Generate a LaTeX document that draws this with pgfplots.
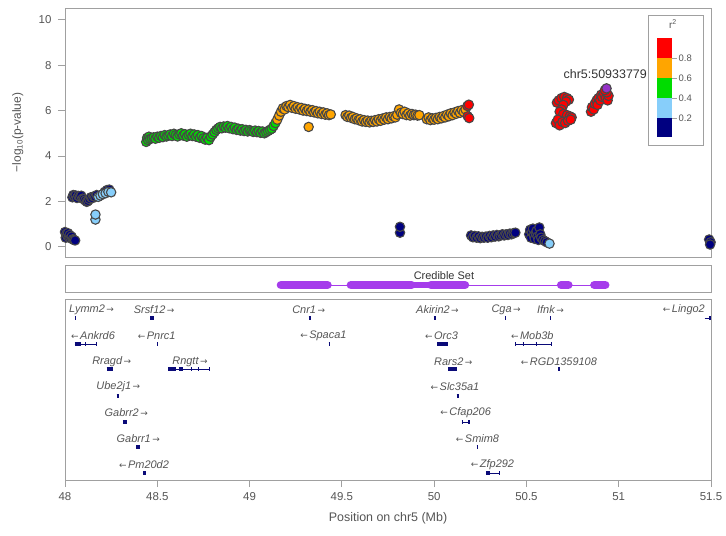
\documentclass[border=0pt]{standalone}
\usepackage{fontspec}
\setmainfont{Liberation Sans}
\newfontfamily\arrowfont{DejaVu Sans}
\usepackage{pgfplots}
\pgfplotsset{compat=1.18}

\definecolor{ldnavy}{RGB}{0,0,128}
\definecolor{ldlblue}{RGB}{135,206,250}
\definecolor{ldgreen}{RGB}{0,220,0}
\definecolor{ldorange}{RGB}{255,165,0}
\definecolor{ldred}{RGB}{255,0,0}
\definecolor{leadpurple}{RGB}{150,50,200}
\definecolor{credp}{RGB}{165,60,235}
\definecolor{genenavy}{RGB}{10,10,120}
\definecolor{axgray}{RGB}{160,160,160}
\definecolor{txtgray}{RGB}{85,85,85}

\newcommand{\ra}{{\arrowfont\fontsize{9}{9}\selectfont\,→}}
\newcommand{\la}{{\arrowfont\fontsize{9}{9}\selectfont←\,}}

\tikzset{genelab/.style={font=\fontsize{11}{11}\selectfont\itshape, text=txtgray, inner sep=0pt, anchor=center}}

\pgfplotsset{
  every axis/.append style={
    scale only axis, width=646bp, xmin=48, xmax=51.5,
    axis line style={draw=axgray, line width=0.8bp},
    tick style={draw=axgray, line width=0.8bp},
    major tick length=7bp, tick align=outside, tick pos=left,
    /pgf/number format/assume math mode=true,
    tick label style={font=\fontsize{11.5}{12}\selectfont, text=txtgray},
  },
  snp/.style={only marks, mark=*, mark size=4.7bp,
    mark options={draw=black!72, line width=1.1bp, fill=#1}},
  exon/.style={genenavy, line width=4.5bp, forget plot},
  intron/.style={genenavy, line width=0.9bp, forget plot},
}

\begin{document}
\begin{tikzpicture}
\path[use as bounding box] (0,0) rectangle (726bp,536bp);

% ---------------- association panel ----------------
\begin{axis}[
  at={(65bp,279bp)}, anchor=south west, height=249bp,
  ymin=-0.45, ymax=10.52, xtick=\empty, ytick={0,2,4,6,8,10},
  yticklabel style={xshift=-3bp},
  ylabel={−log\textsubscript{10}(p-value)},
  ylabel style={at={(rel axis cs:-0.073,0.5)}, anchor=center,
    font=\fontsize{12}{12}\selectfont, text=txtgray},
]
% r2 < 0.2
\addplot[snp=ldnavy] coordinates {
 (48.000,0.65)(48.004,0.40)(48.008,0.58)(48.012,0.48)(48.016,0.60)(48.020,0.42)
 (48.025,0.52)(48.030,0.38)(48.036,0.45)(48.042,0.33)(48.048,0.30)(48.055,0.28)
 (48.040,2.18)(48.045,2.28)(48.050,2.22)(48.058,2.26)(48.065,2.15)(48.072,2.24)
 (48.080,2.20)(48.088,2.25)(48.095,2.12)(48.102,2.10)(48.110,2.04)(48.118,1.98)
 (48.125,2.02)(48.132,2.10)(48.140,2.18)(48.148,2.14)(48.156,2.22)(48.164,2.20)
 (48.172,2.28)(48.215,2.42)(48.228,2.50)(48.240,2.52)
 (49.815,0.62)(49.815,0.88)
 (50.200,0.50)(50.210,0.42)(50.220,0.48)(50.230,0.40)(50.240,0.46)(50.250,0.38)
 (50.260,0.44)(50.270,0.40)(50.280,0.45)(50.290,0.40)(50.300,0.48)(50.310,0.42)
 (50.320,0.50)(50.330,0.45)(50.340,0.52)(50.350,0.46)(50.360,0.50)(50.370,0.55)
 (50.380,0.50)(50.390,0.55)(50.400,0.52)(50.410,0.58)(50.420,0.55)(50.430,0.60)
 (50.440,0.62)
 (50.515,0.55)(50.520,0.75)(50.525,0.40)(50.530,0.65)(50.535,0.80)(50.540,0.50)
 (50.545,0.35)(50.550,0.60)(50.555,0.70)(50.560,0.45)(50.565,0.30)(50.570,0.85)
 (50.575,0.55)(50.580,0.40)(50.590,0.30)(50.600,0.25)(50.610,0.20)
 (51.490,0.32)(51.498,0.20)(51.495,0.10)
};
% 0.2 - 0.4
\addplot[snp=ldlblue] coordinates {
 (48.165,1.20)(48.165,1.42)(48.180,2.20)(48.192,2.26)(48.205,2.32)(48.220,2.36)
 (48.235,2.42)(48.250,2.40)(50.625,0.14)
};
% 0.4 - 0.6
\addplot[snp=ldgreen] coordinates {
 (48.440,4.62)(48.445,4.80)(48.450,4.70)(48.455,4.85)(48.460,4.75)(48.470,4.78)
 (48.480,4.82)(48.490,4.76)(48.500,4.85)(48.510,4.80)(48.520,4.88)(48.530,4.83)
 (48.540,4.92)(48.550,4.86)(48.560,4.90)(48.570,4.95)(48.580,4.88)(48.590,4.98)
 (48.600,4.92)(48.610,4.86)(48.620,4.95)(48.630,5.00)(48.640,4.90)(48.650,4.96)
 (48.660,4.85)(48.670,4.93)(48.680,4.98)(48.690,4.88)(48.700,4.95)(48.710,4.85)
 (48.720,4.92)(48.730,4.80)(48.740,4.88)(48.750,4.78)(48.760,4.72)(48.770,4.80)
 (48.780,4.70)(48.790,4.85)(48.800,4.95)(48.810,5.05)(48.820,5.15)(48.830,5.22)
 (48.840,5.28)(48.850,5.22)(48.860,5.30)(48.870,5.25)(48.880,5.32)(48.890,5.22)
 (48.900,5.28)(48.910,5.18)(48.920,5.25)(48.930,5.15)(48.940,5.20)(48.950,5.12)
 (48.960,5.18)(48.970,5.10)(48.980,5.15)(48.990,5.08)(49.000,5.14)(49.010,5.10)
 (49.020,5.06)(49.030,5.12)(49.040,5.05)(49.050,5.10)(49.060,5.02)(49.070,5.08)
 (49.080,5.00)(49.090,5.05)(49.100,5.10)(49.110,5.15)(49.120,5.20)(49.130,5.32)
 (49.140,5.45)
};
% 0.6 - 0.8
\addplot[snp=ldorange] coordinates {
 (49.150,5.60)(49.160,5.78)(49.170,5.95)(49.180,6.10)(49.190,6.05)(49.200,6.20)
 (49.210,6.15)(49.220,6.25)(49.230,6.12)(49.240,6.20)(49.250,6.08)(49.260,6.15)
 (49.270,6.05)(49.280,6.12)(49.290,6.00)(49.300,6.08)(49.310,5.98)(49.320,6.05)
 (49.330,5.95)(49.340,6.02)(49.350,5.92)(49.360,5.98)(49.370,5.88)(49.380,5.95)
 (49.390,5.85)(49.400,5.92)(49.410,5.82)(49.420,5.88)(49.430,5.80)(49.440,5.83)
 (49.320,5.28)
 (49.520,5.80)(49.530,5.72)(49.540,5.78)(49.550,5.68)(49.560,5.72)(49.570,5.62)
 (49.580,5.66)(49.590,5.58)(49.600,5.62)(49.610,5.52)(49.620,5.58)(49.630,5.50)
 (49.640,5.56)(49.650,5.48)(49.660,5.55)(49.670,5.50)(49.680,5.58)(49.690,5.52)
 (49.700,5.62)(49.710,5.55)(49.720,5.65)(49.730,5.60)(49.740,5.70)(49.750,5.62)
 (49.760,5.72)(49.770,5.66)(49.780,5.75)(49.790,5.70)(49.800,5.82)(49.810,6.05)
 (49.820,5.90)(49.830,5.85)(49.840,5.95)(49.850,5.80)(49.860,5.88)(49.870,5.78)
 (49.880,5.85)(49.890,5.80)(49.900,5.82)(49.910,5.78)(49.920,5.80)
 (49.960,5.62)(49.970,5.70)(49.980,5.58)(49.990,5.66)(50.000,5.60)(50.010,5.68)
 (50.020,5.62)(50.030,5.72)(50.040,5.66)(50.050,5.76)(50.060,5.70)(50.070,5.82)
 (50.080,5.75)(50.090,5.88)(50.100,5.80)(50.110,5.92)(50.120,5.86)(50.130,5.98)
 (50.140,5.90)(50.150,6.02)(50.160,5.94)(50.170,6.05)
};
% 0.8 - 1
\addplot[snp=ldred] coordinates {
 (50.180,6.20)(50.188,6.26)(50.182,5.75)(50.190,5.67)
 (50.665,6.35)(50.675,6.45)(50.690,6.55)(50.705,6.60)(50.720,6.55)(50.730,6.48)
 (50.715,6.40)(50.700,6.25)(50.690,6.05)(50.680,5.95)(50.700,5.85)(50.720,5.80)
 (50.735,5.75)(50.745,5.70)(50.660,5.45)(50.670,5.60)(50.680,5.35)(50.695,5.50)
 (50.710,5.45)(50.725,5.55)(50.740,5.60)
 (50.850,5.95)(50.855,6.15)(50.865,6.05)(50.870,6.30)(50.880,6.45)(50.885,6.25)
 (50.890,6.55)(50.900,6.45)(50.905,6.70)(50.910,6.60)(50.920,6.75)(50.930,6.55)
 (50.940,6.45)(50.945,6.65)(50.935,6.80)(50.925,6.90)
};
% lead variant
\addplot[snp=leadpurple] coordinates {(50.934,6.98)};
\node[font=\fontsize{12.5}{12.5}\selectfont, text=black!80] at (axis cs:50.927,7.62) {chr5:50933779};
\end{axis}

% ---------------- credible set panel ----------------
\begin{axis}[
  at={(65bp,244bp)}, anchor=south west, height=27bp,
  ymin=-292, ymax=-265, xtick=\empty, ytick=\empty,
]
\addplot[credp, line width=0.8bp] coordinates {(49.15,-285)(50.95,-285)};
\addplot[credp, line width=8.5bp, line cap=round] coordinates {(49.170,-285)(49.422,-285)};
\addplot[credp, line width=8.5bp, line cap=round] coordinates {(49.549,-285)(49.877,-285)};
\addplot[credp, line width=6bp, line cap=round] coordinates {(49.877,-285)(49.983,-285)};
\addplot[credp, line width=8.5bp, line cap=round] coordinates {(49.983,-285)(50.167,-285)};
\addplot[credp, line width=8.5bp, line cap=round] coordinates {(50.688,-285)(50.727,-285)};
\addplot[credp, line width=8.5bp, line cap=round] coordinates {(50.868,-285)(50.927,-285)};
\node[font=\fontsize{11}{11}\selectfont, text=black!80] at (axis cs:50.053,-275.5) {Credible Set};
\end{axis}

% ---------------- gene panel ----------------
\begin{axis}[
  at={(65bp,56bp)}, anchor=south west, height=181bp,
  ymin=-480, ymax=-299, ytick=\empty,
  xtick={48,48.5,49,49.5,50,50.5,51,51.5},
  xticklabel style={yshift=-2bp},
  xlabel={Position on chr5 (Mb)},
  xlabel style={at={(rel axis cs:0.5,0)}, anchor=center, yshift=-38bp,
    font=\fontsize{12.5}{12.5}\selectfont, text=txtgray},
]
% row 1
\addplot[exon] coordinates {(48.053,-318)(48.058,-318)};
\addplot[exon] coordinates {(48.462,-318)(48.482,-318)};
\addplot[exon] coordinates {(49.320,-318)(49.333,-318)};
\addplot[exon] coordinates {(49.998,-318)(50.010,-318)};
\addplot[exon] coordinates {(50.386,-318)(50.392,-318)};
\addplot[exon] coordinates {(50.628,-318)(50.633,-318)};
\addplot[intron] coordinates {(51.465,-318)(51.500,-318)};
\addplot[exon] coordinates {(51.488,-318)(51.500,-318)};
% row 2
\addplot[intron] coordinates {(48.052,-344)(48.172,-344)};
\addplot[exon] coordinates {(48.052,-344)(48.085,-344)};
\addplot[exon] coordinates {(48.110,-344)(48.114,-344)};
\addplot[exon] coordinates {(48.168,-344)(48.172,-344)};
\addplot[exon] coordinates {(48.500,-344)(48.505,-344)};
\addplot[exon] coordinates {(49.428,-344)(49.437,-344)};
\addplot[exon] coordinates {(50.017,-344)(50.076,-344)};
\addplot[intron] coordinates {(50.438,-344)(50.636,-344)};
\addplot[exon] coordinates {(50.438,-344)(50.442,-344)};
\addplot[exon] coordinates {(50.480,-344)(50.484,-344)};
\addplot[exon] coordinates {(50.550,-344)(50.554,-344)};
\addplot[exon] coordinates {(50.632,-344)(50.636,-344)};
% row 3
\addplot[exon] coordinates {(48.226,-369)(48.262,-369)};
\addplot[intron] coordinates {(48.560,-369)(48.785,-369)};
\addplot[exon] coordinates {(48.560,-369)(48.600,-369)};
\addplot[exon] coordinates {(48.615,-369)(48.640,-369)};
\addplot[exon] coordinates {(48.680,-369)(48.684,-369)};
\addplot[exon] coordinates {(48.720,-369)(48.724,-369)};
\addplot[exon] coordinates {(48.781,-369)(48.785,-369)};
\addplot[exon] coordinates {(50.076,-369)(50.122,-369)};
\addplot[exon] coordinates {(50.672,-369)(50.684,-369)};
% row 4
\addplot[exon] coordinates {(48.280,-396)(48.290,-396)};
\addplot[exon] coordinates {(50.122,-396)(50.132,-396)};
% row 5
\addplot[exon] coordinates {(48.314,-422)(48.336,-422)};
\addplot[intron] coordinates {(50.149,-422)(50.194,-422)};
\addplot[exon] coordinates {(50.149,-422)(50.155,-422)};
\addplot[exon] coordinates {(50.184,-422)(50.194,-422)};
% row 6
\addplot[exon] coordinates {(48.385,-447)(48.406,-447)};
\addplot[exon] coordinates {(50.230,-447)(50.236,-447)};
% row 7
\addplot[exon] coordinates {(48.424,-473)(48.439,-473)};
\addplot[intron] coordinates {(50.280,-473)(50.357,-473)};
\addplot[exon] coordinates {(50.280,-473)(50.300,-473)};
\addplot[exon] coordinates {(50.353,-473)(50.357,-473)};

% gene names with strand arrows
\node[genelab] at (axis cs:48.144,-310) {Lymm2\ra};
\node[genelab] at (axis cs:48.483,-310) {Srsf12\ra};
\node[genelab] at (axis cs:49.320,-310) {Cnr1\ra};
\node[genelab] at (axis cs:50.018,-310) {Akirin2\ra};
\node[genelab] at (axis cs:50.390,-310) {Cga\ra};
\node[genelab] at (axis cs:50.630,-310) {Ifnk\ra};
\node[genelab] at (axis cs:51.353,-310) {\la Lingo2};
\node[genelab] at (axis cs:48.152,-336) {\la Ankrd6};
\node[genelab] at (axis cs:48.497,-336) {\la Pnrc1};
\node[genelab] at (axis cs:49.400,-336) {\la Spaca1};
\node[genelab] at (axis cs:50.040,-336) {\la Orc3};
\node[genelab] at (axis cs:50.532,-336) {\la Mob3b};
\node[genelab] at (axis cs:48.253,-362) {Rragd\ra};
\node[genelab] at (axis cs:48.677,-362) {Rngtt\ra};
\node[genelab] at (axis cs:50.104,-362) {Rars2\ra};
\node[genelab] at (axis cs:50.676,-362) {\la RGD1359108};
\node[genelab] at (axis cs:48.289,-387) {Ube2j1\ra};
\node[genelab] at (axis cs:50.113,-387) {\la Slc35a1};
\node[genelab] at (axis cs:48.332,-413) {Gabrr2\ra};
\node[genelab] at (axis cs:50.171,-413) {\la Cfap206};
\node[genelab] at (axis cs:48.397,-439) {Gabrr1\ra};
\node[genelab] at (axis cs:50.235,-439) {\la Smim8};
\node[genelab] at (axis cs:48.428,-465) {\la Pm20d2};
\node[genelab] at (axis cs:50.316,-465) {\la Zfp292};
\end{axis}

% ---------------- r^2 colour key ----------------
\begin{scope}[x=1bp, y=1bp]
\draw[axgray, fill=white, line width=0.8bp] (648,391) rectangle (703,521);
\fill[ldnavy]   (657,399) rectangle (672,418);
\fill[ldlblue]  (657,418) rectangle (672,438);
\fill[ldgreen]  (657,438) rectangle (672,458);
\fill[ldorange] (657,458) rectangle (672,478);
\fill[ldred]    (657,478) rectangle (672,498);
\foreach \yy/\lab in {418/0.2, 438/0.4, 458/0.6, 478/0.8} {
  \draw[axgray, line width=0.7bp] (672,\yy) -- (677,\yy);
  \node[anchor=west, inner sep=0pt, font=\fontsize{9.5}{9.5}\selectfont, text=txtgray] at (678.5,\yy) {\lab};
}
\node[font=\fontsize{10}{10}\selectfont, text=txtgray] at (673,512) {r\textsuperscript{2}};
\end{scope}
\end{tikzpicture}
\end{document}
